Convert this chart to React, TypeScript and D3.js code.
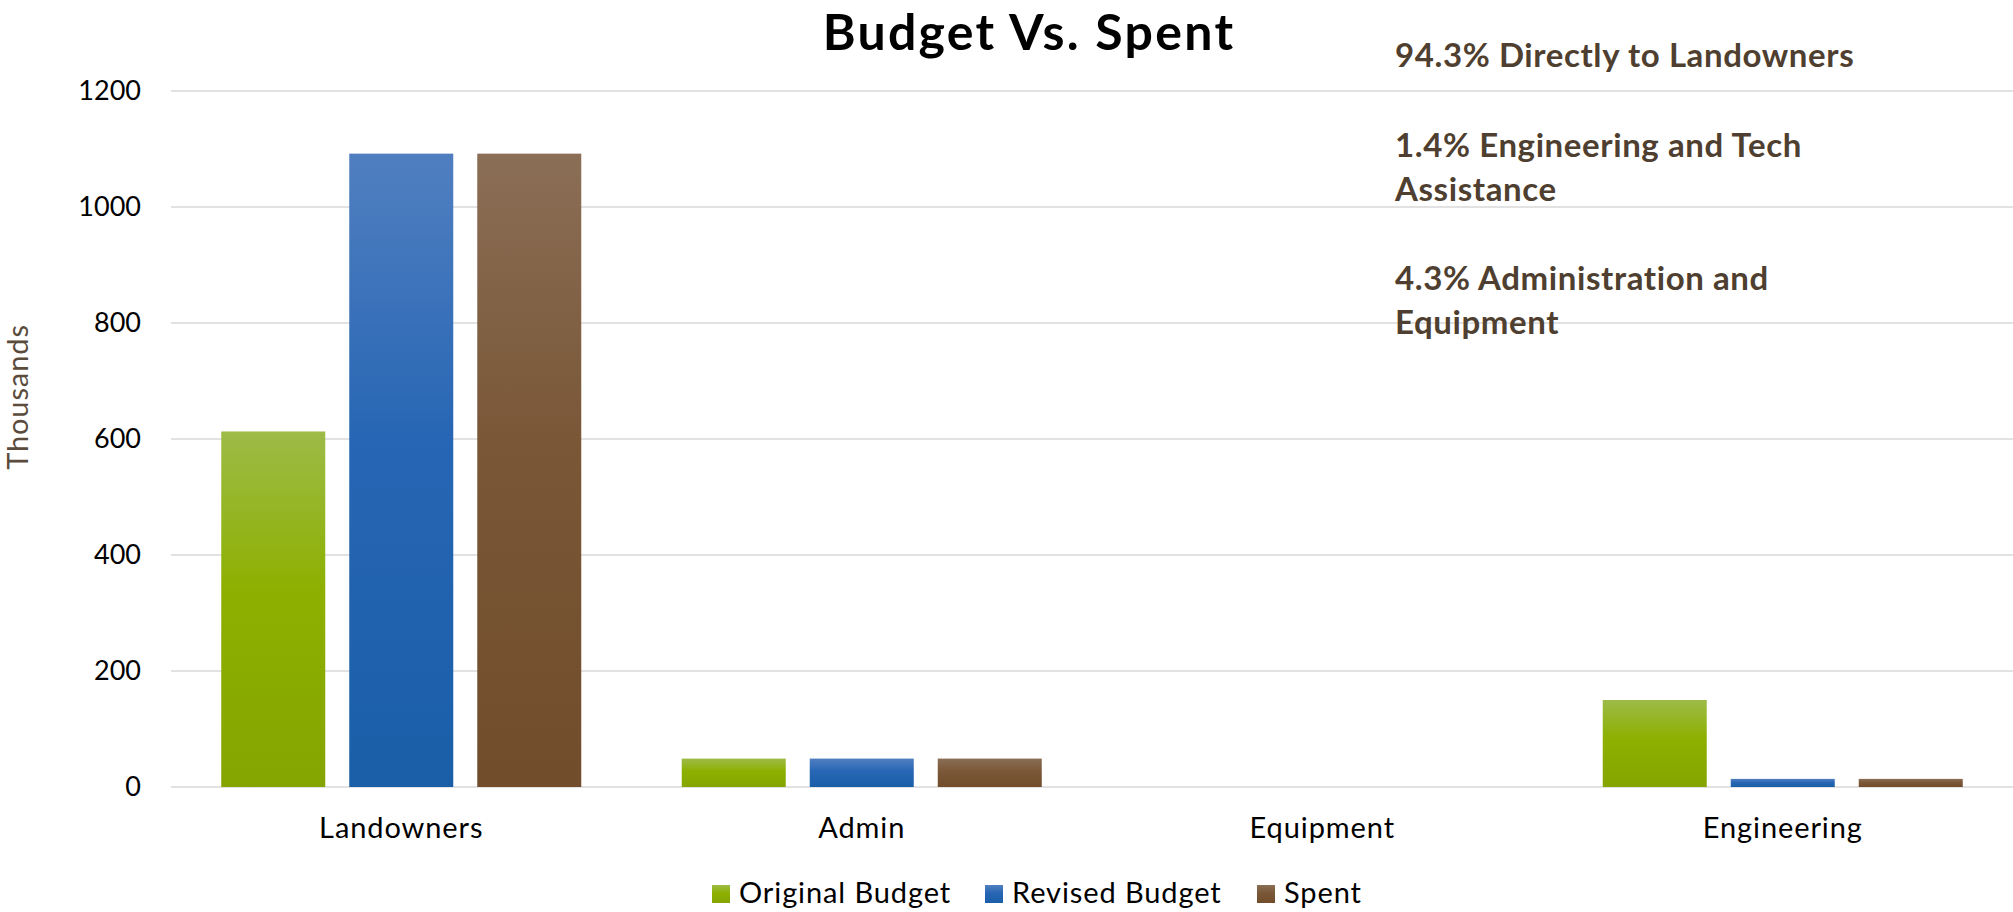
import * as React from 'react';
import * as d3 from 'd3';

const categories = ['Landowners', 'Admin', 'Equipment', 'Engineering'];
const originalBudget = [613, 49, 0, 150];
const revisedBudget = [1092, 49, 0, 14];
const spent = [1092, 49, 0, 14];
const yTicks = [0, 200, 400, 600, 800, 1000, 1200];
const seriesNames = ['Original Budget', 'Revised Budget', 'Spent'];
const notes = [
  ['94.3% Directly to Landowners'],
  ['1.4% Engineering and Tech', 'Assistance'],
  ['4.3% Administration and', 'Equipment'],
];

const W = 2013;
const H = 912;
const FONT = 'Lato, "Open Sans", sans-serif';

// light top -> base -> darker bottom, like the office gradient fill
const gradients = [
  { id: 'g-orig', stops: ['#9dbb47', '#8db000', '#84a500'] },
  { id: 'g-rev', stops: ['#507fc0', '#2766b4', '#1a5ea8'] },
  { id: 'g-spent', stops: ['#8a6e56', '#7a5737', '#714d2b'] },
];

const App: React.FC = () => {
  const margin = { top: 91, right: 0, bottom: 125, left: 171 };
  const series = [originalBudget, revisedBudget, spent];

  const x = d3.scaleBand<string>()
    .domain(categories)
    .range([margin.left, W - margin.right])
    .paddingInner(0.2182)
    .paddingOuter(0.1091);

  const xInner = d3.scaleBand<number>()
    .domain(d3.range(series.length))
    .range([0, x.bandwidth()])
    .paddingInner(0.1875);

  const y = d3.scaleLinear()
    .domain([0, 1200])
    .range([H - margin.bottom, margin.top]);

  const legendX = [712, 985, 1257];

  // note paragraphs: 44px line height, ~89px from a paragraph's last line to the next one
  let cursor = 67;
  const noteLines: { text: string; y: number }[] = [];
  notes.forEach(p => {
    p.forEach((l, j) => {
      noteLines.push({ text: l, y: cursor + j * 44 });
    });
    cursor += (p.length - 1) * 44 + 89.5;
  });

  return (
    <svg
      width={W}
      height={H}
      viewBox={`0 0 ${W} ${H}`}
      style={{ position: 'absolute', left: 0, top: 0, display: 'block', background: '#fff' }}
    >
      <defs>
        {gradients.map(g => (
          <linearGradient key={g.id} id={g.id} x1="0" y1="0" x2="0" y2="1">
            <stop offset="0%" stopColor={g.stops[0]} />
            <stop offset="45%" stopColor={g.stops[1]} />
            <stop offset="100%" stopColor={g.stops[2]} />
          </linearGradient>
        ))}
      </defs>

      {/* grid */}
      {yTicks.map(t => (
        <g key={t}>
          <line x1={margin.left} x2={W} y1={y(t)} y2={y(t)} stroke="#d9d9d9" strokeWidth={1.5} />
          <text x={141} y={y(t)} dy="0.35em" textAnchor="end" fontFamily={FONT} fontSize={27} fill="#000">
            {t}
          </text>
        </g>
      ))}

      {/* bars */}
      {categories.map((c, ci) => (
        <g key={c} transform={`translate(${x(c)},0)`}>
          {series.map((s, si) => (
            s[ci] > 0 ? (
              <rect
                key={si}
                x={xInner(si)}
                y={y(s[ci])}
                width={xInner.bandwidth()}
                height={y(0) - y(s[ci])}
                fill={`url(#${gradients[si].id})`}
              />
            ) : null
          ))}
        </g>
      ))}

      {/* category labels */}
      {categories.map(c => (
        <text
          key={c}
          x={(x(c) ?? 0) + x.bandwidth() / 2}
          y={838}
          textAnchor="middle"
          fontFamily={FONT}
          fontSize={29}
          letterSpacing={0.9}
          fill="#000"
        >
          {c}
        </text>
      ))}

      {/* axis title */}
      <text
        transform="translate(28,397) rotate(-90)"
        textAnchor="middle"
        fontFamily={FONT}
        fontSize={29}
        letterSpacing={0.9}
        fill="#5a4b3d"
      >
        Thousands
      </text>

      {/* title */}
      <text x={1029} y={50} textAnchor="middle" fontFamily={FONT} fontWeight="bold" fontSize={50} letterSpacing={2.3} fill="#000">
        Budget Vs. Spent
      </text>

      {/* notes */}
      {noteLines.map((l, i) => (
        <text key={i} x={1395} y={l.y} fontFamily={FONT} fontWeight="bold" fontSize={33} letterSpacing={0.6} fill="#4f3f30">
          {l.text}
        </text>
      ))}

      {/* legend */}
      {seriesNames.map((name, i) => (
        <g key={name} transform={`translate(${legendX[i]},885)`}>
          <rect width={18} height={18} fill={`url(#${gradients[i].id})`} />
          <text x={27} y={18} fontFamily={FONT} fontSize={29} letterSpacing={0.9} fill="#000">{name}</text>
        </g>
      ))}
    </svg>
  );
};

export default App;
